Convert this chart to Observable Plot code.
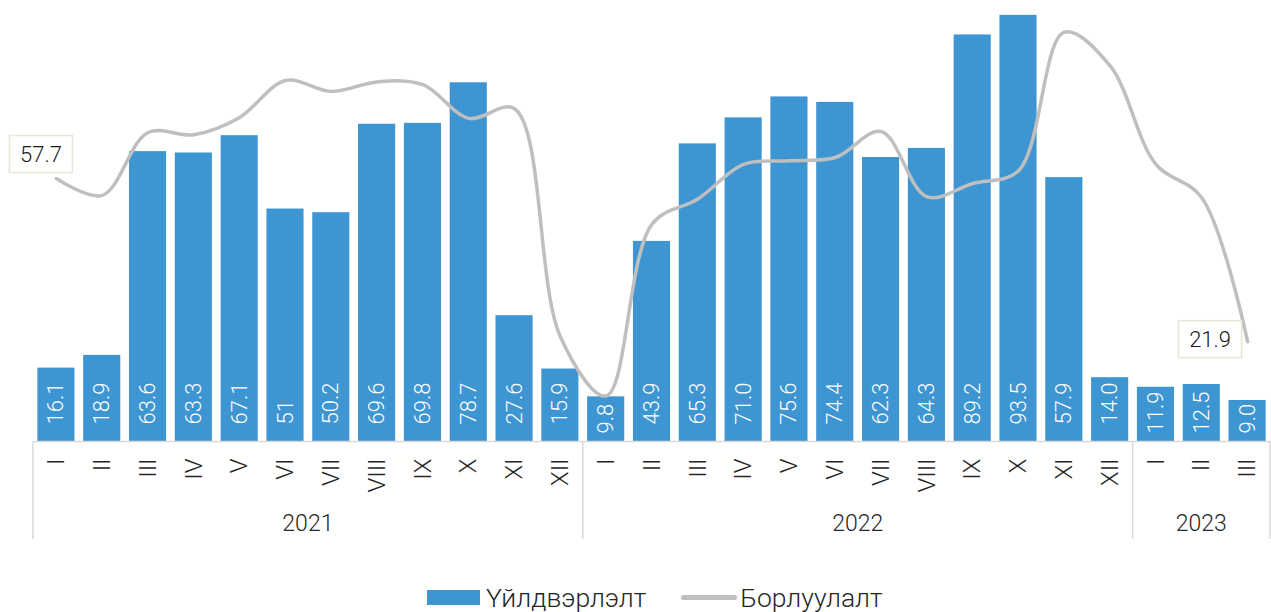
<!DOCTYPE html>
<html>
<head>
<meta charset="utf-8">
<script src="https://cdn.jsdelivr.net/npm/d3@7"></script>
<script src="https://cdn.jsdelivr.net/npm/@observablehq/plot@0.6"></script>
<style>
  html, body { margin: 0; padding: 0; background: #fff; }
  #wrap { position: relative; width: 1271px; height: 612px; font-family: Roboto, "Noto Sans", sans-serif; }
  #legend { position: absolute; left: 427px; top: 582px; display: flex; align-items: center; font-size: 26.5px; font-weight: 300; color: #262626; white-space: nowrap; }
  #legend .sw { display: inline-block; width: 53px; height: 15px; background: #3d95d2; margin-right: 6px; }
  #legend .ln { display: inline-block; width: 56px; height: 5px; border-radius: 3px; background: #bfbfbf; margin-left: 35px; margin-right: 3px; }
</style>
</head>
<body>
<div id="wrap">
  <div id="chart"></div>
  <div id="legend"><span class="sw"></span><span>Үйлдвэрлэлт</span><span class="ln"></span><span>Борлуулалт</span></div>
</div>
<script>
// ---- data ----
const years = ["2021", "2022", "2023"];
const month = ["I","II","III","IV","V","VI","VII","VIII","IX","X","XI","XII",
               "I","II","III","IV","V","VI","VII","VIII","IX","X","XI","XII",
               "I","II","III"];
const year = ["2021","2021","2021","2021","2021","2021","2021","2021","2021","2021","2021","2021",
              "2022","2022","2022","2022","2022","2022","2022","2022","2022","2022","2022","2022",
              "2023","2023","2023"];
const production = [16.1, 18.9, 63.6, 63.3, 67.1, 51, 50.2, 69.6, 69.8, 78.7, 27.6, 15.9,
                    9.8, 43.9, 65.3, 71.0, 75.6, 74.4, 62.3, 64.3, 89.2, 93.5, 57.9, 14.0,
                    11.9, 12.5, 9.0];
const productionLabels = ["16.1","18.9","63.6","63.3","67.1","51","50.2","69.6","69.8","78.7","27.6","15.9",
                          "9.8","43.9","65.3","71.0","75.6","74.4","62.3","64.3","89.2","93.5","57.9","14.0",
                          "11.9","12.5","9.0"];
const sales = [57.7, 54.0, 67.8, 67.3, 71.1, 79.2, 76.8, 78.9, 78.3, 70.9, 73.0, 23.0,
               10.0, 47.7, 53.2, 60.8, 61.6, 62.3, 68.0, 53.7, 56.6, 59.4, 89.8, 82.4,
               60.8, 53.5, 21.9];
const salesLabelled = [0, 26]; // first and last points carry a label

// ---- table built from arrays ----
const rows = month.map((m, i) => ({
  key: year[i] + "-" + m, month: m, year: year[i],
  production: production[i], label: productionLabels[i], sales: sales[i]
}));
const keys = rows.map(d => d.key);

const BLUE = "#3d95d2", GREY = "#bfbfbf", AXIS = "#d9d9d9", TEXT = "#262626";

function bandInfo(sx) {
  const bw = typeof sx.bandwidth === "function" ? sx.bandwidth() : (sx.bandwidth || 0);
  const step = typeof sx.step === "function" ? sx.step() : (sx.step || bw);
  return {bw, step};
}

// year group labels and separators
function yearGroups(index, scales, values, dims) {
  const sx = scales.x, {bw, step} = bandInfo(sx);
  const gap = (step - bw) / 2;
  const y0 = dims.height - dims.marginBottom;
  const g = d3.create("svg:g");
  const bounds = [];
  years.forEach(yr => {
    const ks = rows.filter(d => d.year === yr).map(d => d.key);
    const left = sx(ks[0]) - gap, right = sx(ks[ks.length - 1]) + bw + gap;
    bounds.push(left, right);
    g.append("text").attr("x", (left + right) / 2).attr("y", y0 + 82)
      .attr("text-anchor", "middle").attr("dominant-baseline", "central")
      .attr("font-size", 23).attr("font-weight", 300).attr("fill", TEXT).text(yr);
  });
  [...new Set(bounds.map(b => Math.round(b * 10) / 10))].forEach(b => {
    g.append("line").attr("x1", b).attr("x2", b).attr("y1", y0).attr("y2", y0 + 98)
      .attr("stroke", AXIS).attr("stroke-width", 1.5);
  });
  return g.node();
}

// boxed labels for first and last sales point
function salesBoxes(index, scales, values, dims) {
  const sx = scales.x, sy = scales.y, {bw} = bandInfo(sx);
  const g = d3.create("svg:g");
  const offsets = [[-15, -24], [-37, -2]];
  salesLabelled.forEach((i, j) => {
    const cx = sx(rows[i].key) + bw / 2 + offsets[j][0];
    const cy = sy(rows[i].sales) + offsets[j][1];
    g.append("rect").attr("x", cx - 31.5).attr("y", cy - 18.5).attr("width", 63).attr("height", 37)
      .attr("fill", "#fff").attr("stroke", "#e8e5d9").attr("stroke-width", 1.5);
    g.append("text").attr("x", cx).attr("y", cy).attr("text-anchor", "middle")
      .attr("dominant-baseline", "central").attr("font-size", 22).attr("font-weight", 300).attr("fill", "#1a1a1a")
      .text(rows[i].sales.toFixed(1));
  });
  return g.node();
}

const chart = Plot.plot({
  width: 1271,
  height: 560,
  marginLeft: 33,
  marginRight: 1,
  marginTop: 8,
  marginBottom: 119,
  style: {fontFamily: "Roboto, 'Noto Sans', sans-serif", background: "transparent"},
  x: {type: "band", domain: keys, paddingInner: 0.19, paddingOuter: 0.095, round: false, axis: null},
  y: {domain: [0, 95], axis: null},
  marks: [
    Plot.barY(rows, {x: "key", y: "production", fill: BLUE}),
    Plot.ruleY([0], {stroke: AXIS, strokeWidth: 1.5}),
    Plot.text(rows.filter(d => d.production >= 13), {x: "key", y: 0, text: "label", rotate: -90,
      textAnchor: "start", lineAnchor: "middle", dy: -17, fill: "#fff", fontSize: 22, fontWeight: 300}),
    Plot.text(rows.filter(d => d.production < 13), {x: "key", y: 0, text: "label", rotate: -90,
      textAnchor: "start", lineAnchor: "middle", dy: -8, fill: "#fff", fontSize: 22, fontWeight: 300}),
    Plot.line(rows, {x: "key", y: "sales", curve: "catmull-rom", stroke: GREY, strokeWidth: 3.5}),
    Plot.text(rows, {x: "key", frameAnchor: "bottom", text: "month", rotate: -90, textAnchor: "end",
      lineAnchor: "middle", dy: 17, fill: TEXT, fontSize: 24, fontWeight: 300}),
    yearGroups,
    salesBoxes
  ]
});
document.getElementById("chart").appendChild(chart);
</script>
</body>
</html>
